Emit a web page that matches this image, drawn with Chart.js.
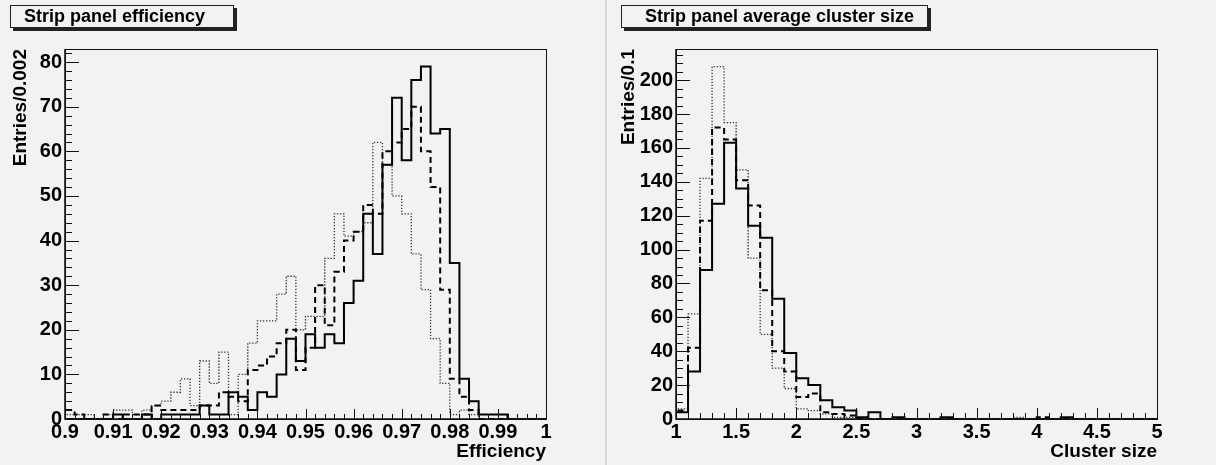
<!DOCTYPE html>
<html>
<head>
<meta charset="utf-8">
<title>Strip panel</title>
<script src="https://cdn.jsdelivr.net/npm/chart.js"></script>
<style>
    body {
        margin: 0;
        background: #f2f2f2;
        font-family: "Liberation Sans", Arial, sans-serif;
        width: 1216px;
        height: 465px;
        overflow: hidden;
    }
    .pad {
        position: absolute;
        top: 0;
        height: 465px;
    }
    .titlebox {
        position: absolute;
        top: 5px;
        height: 21px;
        border: 1px solid #222;
        box-shadow: 3px 3px 0 #222;
        background: #f2f2f2;
        font-weight: bold;
        font-size: 18px;
        line-height: 21px;
        color: #000;
        white-space: nowrap;
    }
    #sep {
        position: absolute;
        left: 605px;
        top: 0;
        width: 2px;
        height: 465px;
        background: #d8d8d8;
    }
</style>
</head>
<body>
<div class="pad" style="left:0;width:605px"><canvas id="effChart" width="605" height="465"></canvas></div>
<div id="sep"></div>
<div class="pad" style="left:608px;width:608px"><canvas id="cluChart" width="608" height="465"></canvas></div>
<div class="titlebox" style="left:10px;width:222px"><span style="margin-left:13px">Strip panel efficiency</span></div>
<div class="titlebox" style="left:621px;width:305px"><span style="margin-left:23px">Strip panel average cluster size</span></div>
<script>
// efficiency histograms, 50 bins of 0.002 from 0.9
const effLow = 0.9;
const effBinWidth = 0.002;
const effSolid = [0,0,0,0,0, 1,0,0,1,0, 1,1,1,1,3, 1,1,6,5,2, 6,5,10,18,13,
                  19,16,19,17,26, 31,46,37,57,72, 58,76,79,64,65, 35,9,4,1,1, 1,0,0,0,0];
const effDashed = [2,1,0,0,1, 0,1,1,1,3, 2,2,2,2,3, 3,6,5,4,11, 12,14,17,20,11,
                   16,30,21,33,40, 42,48,46,60,62, 65,70,60,52,29, 9,5,2,0,0, 0,0,0,0,0];
const effDotted = [1,1,1,0,1, 2,2,1,2,3, 4,6,9,3,13, 8,15,1,10,17, 22,22,28,32,20,
                   23,23,36,46,41, 42,44,62,57,50, 46,37,29,18,8, 1,2,1,0,0, 0,0,0,0,0];

// cluster size histograms, 40 bins of 0.1 from 1
const cluLow = 1;
const cluBinWidth = 0.1;
const cluSolid = [4,28,88,127,163,136,114,107,71,39, 24,20,11,7,5,1,4,0,1,0,
                  0,0,1,0,0,0,0,0,0,0, 0,0,1,0,0,0,0,0,0,0];
const cluDashed = [5,42,117,172,165,141,126,76,40,28, 13,15,4,3,2,0,0,0,0,0,
                   0,0,0,0,0,0,0,0,0,0, 1,0,0,0,0,0,0,0,0,0];
const cluDotted = [6,62,142,208,175,147,95,50,30,18, 6,5,3,1,1,0,0,0,0,0,
                   0,0,0,0,0,0,0,0,1,0, 0,0,0,0,0,0,0,0,0,0];

// turn bin contents into a step outline (point = right edge of bin)
function steps(low, width, vals) {
    const pts = [{x: low, y: 0}];
    vals.forEach((v, i) => pts.push({x: low + (i + 1) * width, y: v}));
    pts.push({x: low + vals.length * width, y: 0});
    return pts;
}

function histSet(label, pts, style) {
    const ds = {
        label: label,
        data: pts,
        stepped: 'after',
        borderColor: '#000',
        borderWidth: 2,
        pointRadius: 0,
        fill: false,
        tension: 0
    };
    if (style == 'dashed') {
        ds.borderDash = [6, 4];
    }
    if (style == 'dotted') {
        ds.borderDash = [1.3, 1.7];
        ds.borderWidth = 1.3;
        ds.borderColor = '#333';
    }
    return ds;
}

// ROOT-like frame with ticks pointing into the plot
const rootAxes = {
    id: 'rootAxes',
    afterDraw(chart, args, o) {
        const ctx = chart.ctx;
        const a = chart.chartArea;
        const x = chart.scales.x, y = chart.scales.y;
        ctx.save();
        ctx.strokeStyle = '#111';
        ctx.lineWidth = 1;
        ctx.strokeRect(a.left + 0.5, a.top + 0.5, a.right - a.left, a.bottom - a.top);
        ctx.lineWidth = 1.5;
        ctx.beginPath();
        ctx.moveTo(a.left, a.top);
        ctx.lineTo(a.left, a.bottom);
        ctx.lineTo(a.right, a.bottom);
        ctx.stroke();
        ctx.lineWidth = 1;
        ctx.beginPath();
        let n = Math.round((x.max - x.min) / o.xMinor);
        for (let i = 0; i <= n; i++) {
            const v = x.min + i * o.xMinor;
            const r = v / o.xMajor;
            const len = Math.abs(r - Math.round(r)) < 1e-6 ? o.xMajorLen : o.xMinorLen;
            const px = Math.round(x.getPixelForValue(v)) + 0.5;
            ctx.moveTo(px, a.bottom);
            ctx.lineTo(px, a.bottom - len);
        }
        n = Math.floor(y.max / o.yMinor + 1e-6);
        for (let i = 0; i <= n; i++) {
            const v = i * o.yMinor;
            const r = v / o.yMajor;
            const len = Math.abs(r - Math.round(r)) < 1e-6 ? o.yMajorLen : o.yMinorLen;
            const py = Math.round(y.getPixelForValue(v)) + 0.5;
            ctx.moveTo(a.left, py);
            ctx.lineTo(a.left + len, py);
        }
        ctx.stroke();
        ctx.restore();
    }
};

const tickFont = {family: 'Liberation Sans', size: 20, weight: 'bold'};
const titleFont = {family: 'Liberation Sans', size: 19, weight: 'bold'};

function makeChart(id, sets, xr, yMax, yStep, xTitle, yTitle, yWidth, axes) {
    return new Chart(document.getElementById(id), {
        type: 'line',
        data: {datasets: sets},
        options: {
            responsive: false,
            animation: false,
            layout: {padding: {left: 0, top: 49, right: 59, bottom: 0}},
            plugins: {
                legend: {display: false},
                tooltip: {enabled: false},
                rootAxes: axes
            },
            scales: {
                x: {
                    type: 'linear',
                    min: xr[0],
                    max: xr[1],
                    grid: {display: false, drawTicks: false},
                    border: {display: false},
                    ticks: {
                        stepSize: xr[2],
                        autoSkip: false,
                        maxRotation: 0,
                        padding: 1,
                        color: '#000',
                        font: tickFont,
                        callback: v => String(Math.round(v * 1000) / 1000)
                    },
                    title: {display: true, text: xTitle, align: 'end', color: '#000',
                            font: titleFont, padding: {top: 0, bottom: 2}},
                    afterFit: s => { s.height = 46; }
                },
                y: {
                    type: 'linear',
                    min: 0,
                    max: yMax,
                    grid: {display: false, drawTicks: false},
                    border: {display: false},
                    ticks: {
                        stepSize: yStep,
                        includeBounds: false,
                        padding: 3,
                        color: '#000',
                        font: tickFont
                    },
                    title: {display: true, text: yTitle, align: 'end', color: '#000',
                            font: titleFont, padding: {top: 9, bottom: 0}},
                    afterFit: s => { s.width = yWidth; }
                }
            }
        },
        plugins: [rootAxes]
    });
}

makeChart('effChart', [
        histSet('solid', steps(effLow, effBinWidth, effSolid), 'solid'),
        histSet('dashed', steps(effLow, effBinWidth, effDashed), 'dashed'),
        histSet('dotted', steps(effLow, effBinWidth, effDotted), 'dotted')
    ], [0.9, 1, 0.01], 82.95, 10, 'Efficiency', 'Entries/0.002', 65,
    {xMinor: 0.002, xMajor: 0.01, xMajorLen: 10, xMinorLen: 5, yMinor: 2, yMajor: 10, yMajorLen: 14, yMinorLen: 7});

makeChart('cluChart', [
        histSet('solid', steps(cluLow, cluBinWidth, cluSolid), 'solid'),
        histSet('dashed', steps(cluLow, cluBinWidth, cluDashed), 'dashed'),
        histSet('dotted', steps(cluLow, cluBinWidth, cluDotted), 'dotted')
    ], [1, 5, 0.5], 218.4, 20, 'Cluster size', 'Entries/0.1', 68,
    {xMinor: 0.1, xMajor: 0.5, xMajorLen: 11, xMinorLen: 6, yMinor: 5, yMajor: 20, yMajorLen: 14, yMinorLen: 7});
</script>
</body>
</html>
